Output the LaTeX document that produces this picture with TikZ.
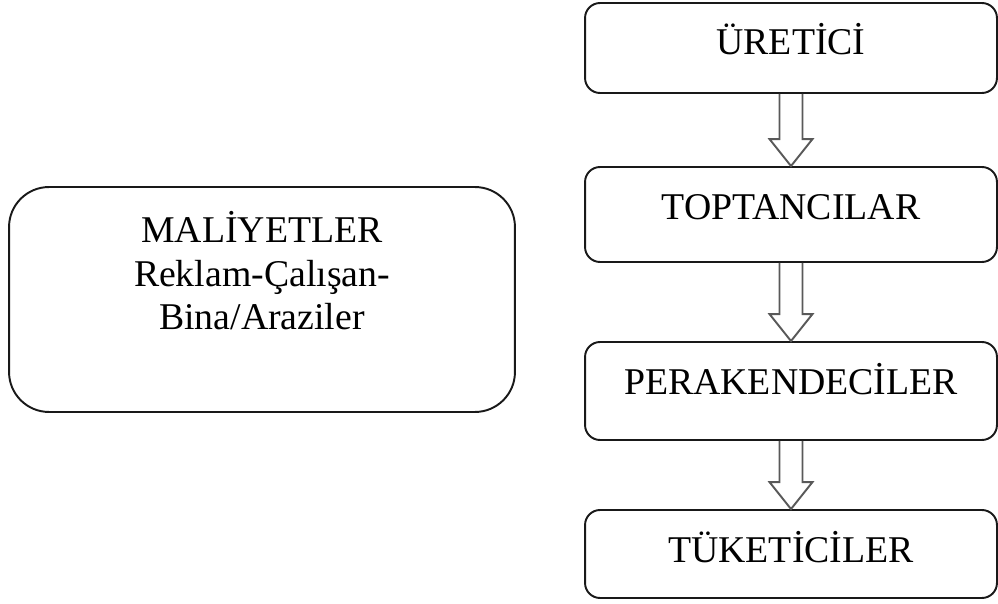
\documentclass[tikz,border=0pt]{standalone}
\usepackage{fontspec}
\setmainfont{Liberation Serif}
\usetikzlibrary{calc}

\begin{document}
\begin{tikzpicture}[x=0.02cm,y=0.02cm,
  box/.style={draw=black!90,line width=1.1pt,rounded corners=0.3cm,
    minimum width=8.24cm,inner ysep=0pt,text height=1.04cm,align=center,
    font=\fontsize{21.5pt}{25pt}\selectfont},
  hollow/.style={draw=black!65,line width=1.1pt,line join=miter,
    to path={($(\tikztostart)+(-11.5,0)$) -- ($(\tikztotarget)+(-11.5,27)$)
      -- ++(-10,0) -- (\tikztotarget) -- ($(\tikztotarget)+(21.5,27)$)
      -- ++(-10,0) -- ($(\tikztostart)+(11.5,0)$)}}]

  \useasboundingbox (0,0) rectangle (998,603);

  \node[box,text depth=0.76cm] (ure) at (791,555) {ÜRETİCİ};
  \node[box,text depth=0.86cm] (top) at (791,388.5) {TOPTANCILAR};
  \node[box,text depth=0.92cm] (per) at (791,212) {PERAKENDECİLER};
  \node[box,text depth=0.72cm] (tuk) at (791,49) {TÜKETİCİLER};

  \node[box,rounded corners=0.8cm,minimum width=10.12cm,
    text height=2.86cm,text depth=1.64cm] (mal) at (262,303.5)
    {MALİYETLER\\Reklam-Çalışan-\\Bina/Araziler};

  % Flow
  \draw[hollow] (ure.south) to (top.north);
  \draw[hollow] (top.south) to (per.north);
  \draw[hollow] (per.south) to (tuk.north);

\end{tikzpicture}
\end{document}
